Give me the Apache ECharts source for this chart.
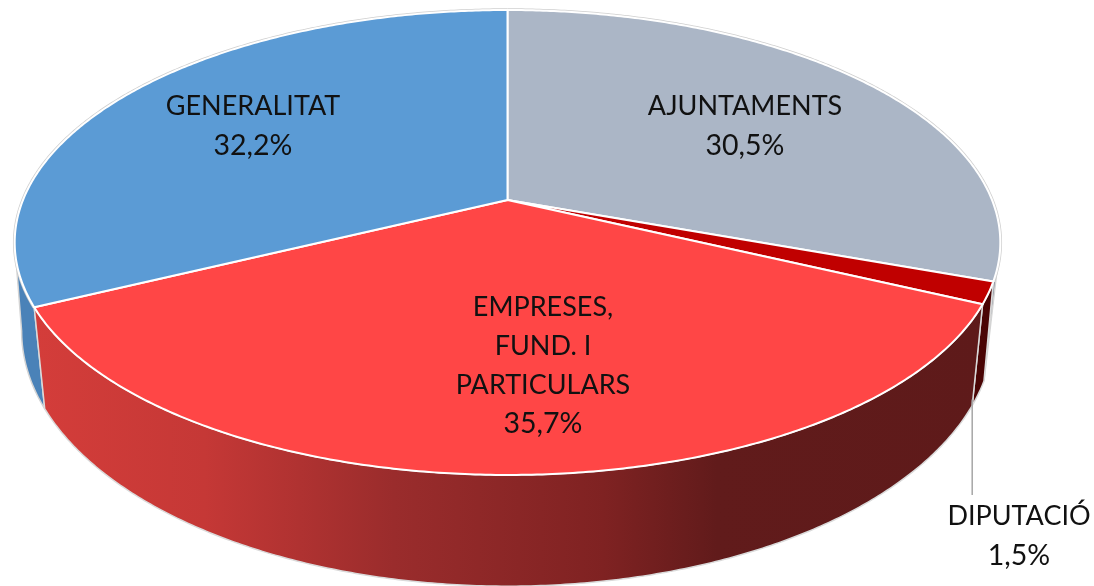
<!DOCTYPE html>
<html>
<head>
<meta charset="utf-8">
<style>html,body{margin:0;padding:0;background:#fff}#c{width:1094px;height:586px}</style>
<script src="https://cdn.jsdelivr.net/npm/echarts@6/dist/echarts.min.js"></script>
</head>
<body>
<div id="c"></div>
<script>
// Data, clockwise from 12 o'clock
const categories = ['AJUNTAMENTS', 'DIPUTACIÓ', 'EMPRESES,\nFUND. I\nPARTICULARS', 'GENERALITAT'];
const values = [30.5, 1.5, 35.7, 32.2];
const faceColors = ['#ABB6C6', '#C00000', '#FF4646', '#5B9BD5'];
const wallColors = ['#7F8896', '#4A0505', null, '#4A82B8'];

// Perspective disc geometry (page pixels)
const top_ = { cx: 507.5, cy: 200, a: 484.5, b: 224.7, k: 0.1828 };
const low = { cx: 507.5, cy: 291.5, a: 480, b: 249, k: 0.155 };
const total = values.reduce((s, v) => s + v, 0);
const project = (d, deg) => {
  const t = deg * Math.PI / 180, u = Math.sin(t), v = -Math.cos(t), w = 1 - d.k * v;
  return [d.cx + d.a * u / w, d.cy + d.b * v / w];
};
const arc = (d, from, to) => {
  const n = Math.max(2, Math.ceil(Math.abs(to - from) / 0.5)), pts = [];
  for (let i = 0; i <= n; i++) pts.push(project(d, from + (to - from) * i / n));
  return pts;
};
// angle at which a disc's rim is widest on screen (silhouette tangent)
const tangent = d => Math.acos(-d.k) * 180 / Math.PI;
const startOf = i => values.slice(0, i).reduce((s, v) => s + v, 0) / total * 360;
const endOf = i => startOf(i) + values[i] / total * 360;

const redWall = new echarts.graphic.LinearGradient(0, 0, 1, 0, [
  { offset: 0, color: '#D43D3A' },
  { offset: 0.18, color: '#C53836' },
  { offset: 0.38, color: '#9A2C2C' },
  { offset: 0.6, color: '#7F2222' },
  { offset: 0.72, color: '#611B1B' },
  { offset: 1, color: '#5E1A1A' }
]);

// label anchors: centre x, centre y of the text block
const labelAnchors = [[745, 126], [1019, 536], [543, 365.5], [253, 126]];

const wallOrder = [0, 3, 1, 2];
function renderWall(params, api) {
  const i = wallOrder[params.dataIndex];
  const a = startOf(i), b = endOf(i);
  const children = [];
  let pts;
  if (i === 0) {
    pts = arc(top_, tangent(top_), b).concat([project(low, b)]);
  } else if (i === 3) {
    pts = arc(top_, a, 360 - tangent(top_)).concat(arc(low, 360 - tangent(low), a));
  } else {
    pts = arc(top_, a, b).concat(arc(low, b, a));
  }
  children.push({
    type: 'polygon',
    shape: { points: pts },
    style: {
      fill: i === 2 ? redWall : wallColors[i],
      stroke: i === 2 || i === 1 ? '#DADADA' : '#D4D4D4',
      lineWidth: 1.5, lineJoin: 'round'
    }
  });
  if (i === 0 || i === 3) {
    children.push({
      type: 'polyline',
      shape: { points: arc(top_, a, b) },
      style: { fill: 'none', stroke: '#CFCFCF', lineWidth: 3.5 }
    });
  }
  return { type: 'group', children };
}
function renderFace(params, api) {
  const i = params.dataIndex;
  const pts = [[top_.cx, top_.cy]].concat(arc(top_, startOf(i), endOf(i)));
  return {
    type: 'polygon',
    shape: { points: pts },
    style: { fill: faceColors[i], stroke: '#FFFFFF', lineWidth: 2, lineJoin: 'round' }
  };
}
function renderLabel(params, api) {
  const i = params.dataIndex;
  const pct = api.value(0).toFixed(1).replace('.', ',') + '%';
  const p = labelAnchors[i];
  const name = categories[i].split('\n').map(s => '{n|' + s + '}').join('\n');
  const children = [{
    type: 'text',
    style: {
      text: name + '\n{p|' + pct + '}',
      x: p[0], y: p[1], align: 'center', verticalAlign: 'middle',
      fill: '#111111',
      rich: {
        n: { fontFamily: 'Lato', fontSize: 27, lineHeight: 38.7, fill: '#111111' },
        p: { fontFamily: 'Lato', fontSize: 28.5, lineHeight: 38.7, fill: '#111111' }
      }
    }
  }];
  if (i === 1) {
    const o = project(low, endOf(1));
    children.unshift({
      type: 'line',
      shape: { x1: o[0], y1: o[1] - 6, x2: o[0], y2: 495 },
      style: { stroke: '#A6A6A6', lineWidth: 1.5 }
    });
  }
  return { type: 'group', children };
}

const chart = echarts.init(document.getElementById('c'), null, { renderer: 'canvas' });
chart.setOption({
  backgroundColor: '#FFFFFF',
  animation: false,
  tooltip: { show: false },
  series: [
    { type: 'custom', coordinateSystem: 'none', z: 1, silent: true, renderItem: renderWall,
      data: wallOrder.map(i => [values[i]]) },
    { type: 'custom', coordinateSystem: 'none', z: 2, silent: true, renderItem: renderFace,
      data: values.map(v => [v]) },
    { type: 'custom', coordinateSystem: 'none', z: 3, silent: true, renderItem: renderLabel,
      data: values.map(v => [v]) }
  ]
});
</script>
</body>
</html>
